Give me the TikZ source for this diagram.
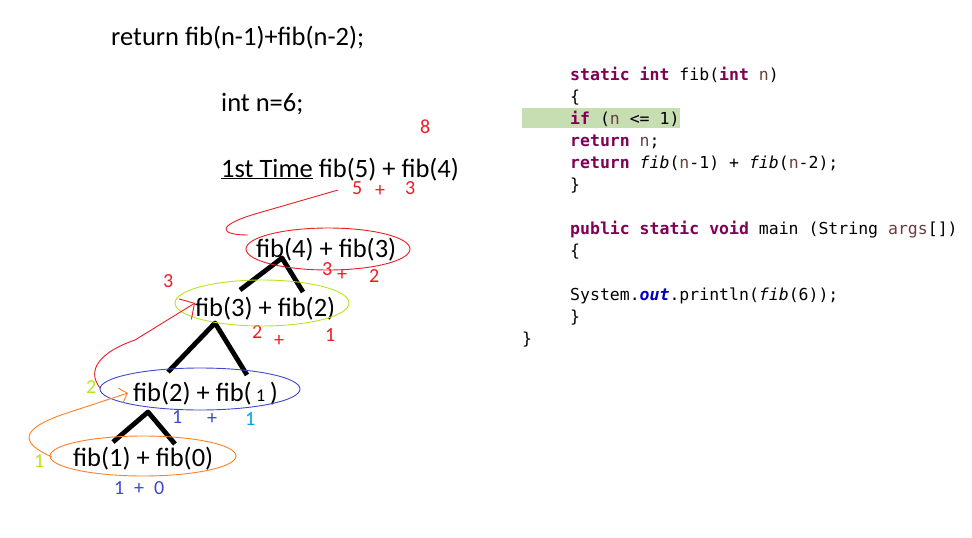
\documentclass[tikz,border=0pt]{standalone}
\usepackage{fontspec}
\setmainfont{Carlito}
\newfontfamily\codefont{DejaVu Sans Mono}
\usetikzlibrary{arrows.meta}
\definecolor{pred}{HTML}{ED1C24}
\definecolor{plime}{HTML}{B5E61D}
\definecolor{pblue}{HTML}{3F48CC}
\definecolor{porange}{HTML}{FF7F27}
\definecolor{pcyan}{HTML}{00A2E8}
\definecolor{kwcol}{HTML}{7F0055}
\definecolor{varcol}{HTML}{6A3E3E}
\definecolor{fldcol}{HTML}{0000C0}
\definecolor{hlcol}{RGB}{199,221,178}
\newcommand{\kwd}[1]{\textcolor{kwcol}{\bfseries #1}}
\newcommand{\vr}[1]{\textcolor{varcol}{#1}}
\begin{document}
\begin{tikzpicture}[x=1pt,y=-1pt,line join=round,
  big/.style={font=\fontsize{26.5}{30}\selectfont,inner sep=0pt,anchor=base west},
  num/.style={font=\fontsize{20}{22}\selectfont,inner sep=0pt,anchor=base west},
  code/.style={font=\codefont\fontsize{16.5}{20}\selectfont,inner sep=0pt,anchor=base west},
  branch/.style={line width=4.8pt},
  stroke/.style={line width=0.9pt}]
\useasboundingbox (0,0) rectangle (972,538);
% left: text and call tree
\node[big] (ret) at (111,45) {return fib(n-1)+fib(n-2);};
\node[big] (intn) at (221,111) {int n=6;};
\node[num,text=pred] (eight) at (420,133) {8};
\node[big] (first) at (221,177) {\underline{1st Time} fib(5) + fib(4)};
\node[num,text=pred] (v5) at (352,194) {5};
\node[num,text=pred] (p5) at (375,196) {+};
\node[num,text=pred] (v3) at (405,194) {3};
\node[big] (f43) at (256,257) {fib(4) + fib(3)};
\node[big] (f32) at (195,316) {fib(3) + fib(2)};
\node[big] (f21) at (133,401) {fib(2) + fib(\,{\fontsize{18}{18}\selectfont 1}\,)};
\node[big] (f10) at (73,466) {fib(1) + fib(0)};
\node[num,text=pred] (a3) at (322,275) {3};
\node[num,text=pred] (ap) at (337,280) {+};
\node[num,text=pred] (a2) at (369,282) {2};
\node[num,text=pred] (b3) at (163,287) {3};
\node[num,text=pred] (c2) at (252,338) {2};
\node[num,text=pred] (cp) at (274,346) {+};
\node[num,text=pred] (c1) at (325,341) {1};
\node[num,text=plime] (d2) at (86,393) {2};
\node[num,text=pblue] (e1) at (172,423) {1};
\node[num,text=pblue] (ep) at (207,424) {+};
\node[num,text=pcyan] (e2) at (245,425) {1};
\node[num,text=plime] (g1) at (34,467) {1};
\node[num,text=pblue] (h1) at (114,494) {1};
\node[num,text=pblue] (hp) at (134,494) {+};
\node[num,text=pblue] (h0) at (154,494) {0};
% tree branches
\coordinate (t43) at (282,258);
\coordinate (t32) at (215,323);
\coordinate (t21) at (148,412);
\draw[branch] (240,290) -- (t43) -- (303,292);
\draw[branch] (168,372) -- (t32) -- (247,375);
\draw[branch] (113,442) -- (t21) -- (175,444);
% hand drawn rings and arrows
\draw[stroke,pred] (328,249) ellipse [x radius=82,y radius=21];
\draw[stroke,plime] (262,303) ellipse [x radius=87,y radius=23];
\draw[stroke,pblue] (200,389) ellipse [x radius=100,y radius=21];
\draw[stroke,porange] (143,456) ellipse [x radius=93,y radius=20];
\coordinate (s53) at (338,190);
\coordinate (tip32) at (195,303);
\coordinate (tip21) at (128,393);
\draw[stroke,pred] (s53) -- (255,214) .. controls (215,226) and (220,235) .. (248,235);
\draw[stroke,pred,-{Straight Barb[length=11pt,width=24pt]}] (100,388) .. controls (86,370) and (100,352) .. (135,340) -- (tip32);
\draw[stroke,porange,-{Straight Barb[length=7pt,width=15pt]}] (52,457) .. controls (18,442) and (20,428) .. (70,412) -- (tip21);
% right: code listing
\fill[hlcol] (522,108) rectangle (680,128);
\node[code] (l1) at (570,80) {\kwd{static} \kwd{int} fib(\kwd{int} \vr{n})};
\node[code] (l2) at (570,102) {\{};
\node[code] (l3) at (570,124) {\kwd{if} (\vr{n} <= 1)};
\node[code] (l4) at (570,146) {\kwd{return} \vr{n};};
\node[code] (l5) at (570,168) {\kwd{return} \textit{fib}(\vr{n}-1) + \textit{fib}(\vr{n}-2);};
\node[code] (l6) at (570,190) {\}};
\node[code] (l7) at (570,234) {\kwd{public} \kwd{static} \kwd{void} main (String \vr{args}[])};
\node[code] (l8) at (570,256) {\{};
\node[code] (l9) at (570,300) {System.\textcolor{fldcol}{\bfseries\itshape out}.println(\textit{fib}(6));};
\node[code] (l10) at (570,322) {\}};
\node[code] (l11) at (522,344) {\}};
\end{tikzpicture}
\end{document}
